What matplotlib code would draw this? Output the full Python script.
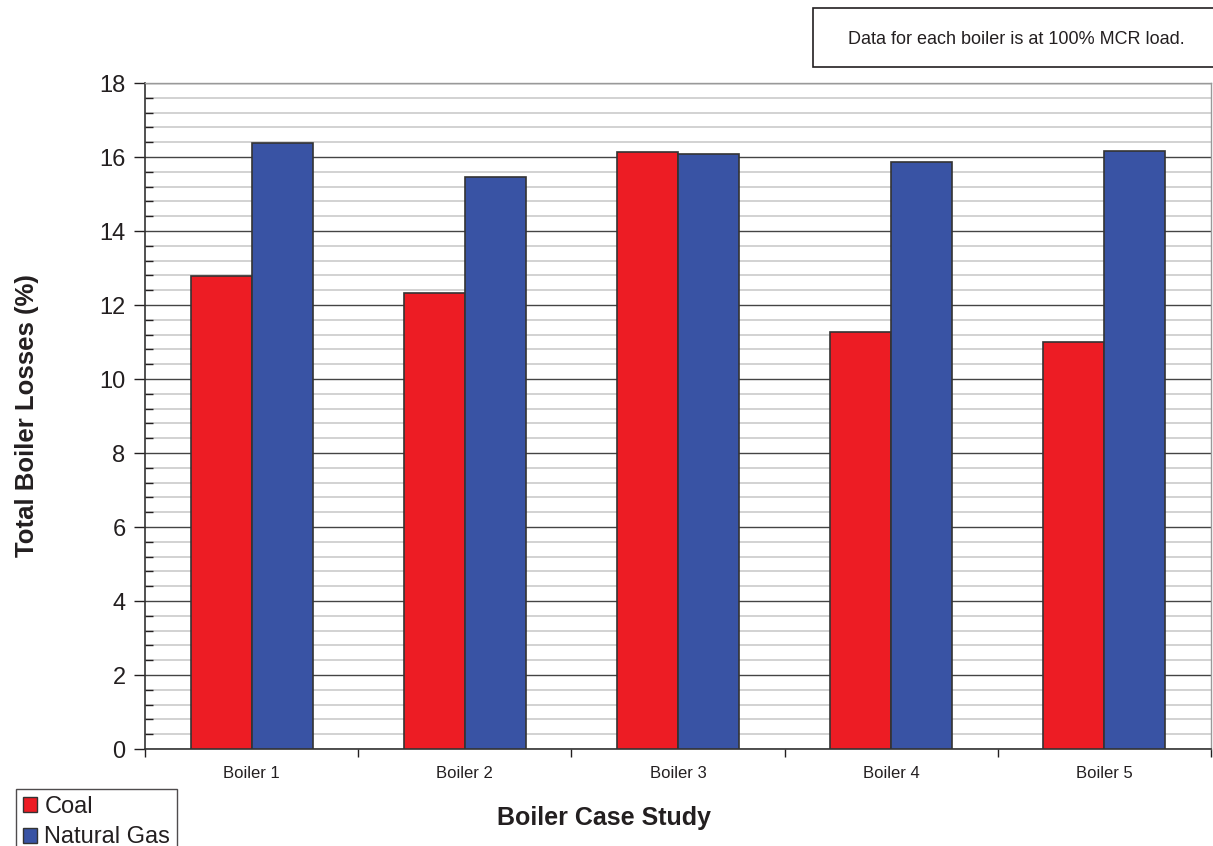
import matplotlib
matplotlib.use("Agg")
import matplotlib.pyplot as plt
import numpy as np
from matplotlib.patches import Rectangle, Patch
from matplotlib.ticker import MultipleLocator

plt.rcParams.update({
    "font.family": ["Liberation Sans", "DejaVu Sans"],
    "text.color": "#231f20",
    "xtick.color": "#231f20",
    "ytick.color": "#231f20",
})

boilers = ["Boiler 1", "Boiler 2", "Boiler 3", "Boiler 4", "Boiler 5"]
coal = [12.78, 12.32, 16.14, 11.27, 11.0]
natural_gas = [16.38, 15.46, 16.08, 15.86, 16.16]

fig = plt.figure(figsize=(12.13, 8.46), dpi=100)
ax = fig.add_axes([145 / 1213, 1 - 749 / 846, (1211 - 145) / 1213, (749 - 83) / 846])

x = np.arange(len(boilers))
w = 0.286
ax.bar(x - w / 2, coal, w, color="#ed1c24", edgecolor="#333333", linewidth=1.2, zorder=3)
ax.bar(x + w / 2, natural_gas, w, color="#3953a4", edgecolor="#333333", linewidth=1.2, zorder=3)

ax.set_xlim(-0.5, 4.5)
ax.set_ylim(0, 18)

# y: major every 2, minor every 0.4
ax.yaxis.set_major_locator(MultipleLocator(2))
ax.yaxis.set_minor_locator(MultipleLocator(0.4))
ax.tick_params(axis="y", which="major", direction="out", length=8, width=1, labelsize=17, pad=6)
ax.tick_params(axis="y", which="minor", direction="in", length=6, width=1)
ax.grid(axis="y", which="major", color="#444444", linewidth=1, zorder=1)
ax.grid(axis="y", which="minor", color="#cfcfcf", linewidth=1.3, zorder=0)

# x: ticks on category boundaries, labels at centres
ax.set_xticks(np.arange(-0.5, 4.6, 1.0))
ax.set_xticklabels([])
ax.set_xticks(x, minor=True)
ax.set_xticklabels(boilers, minor=True)
ax.tick_params(axis="x", which="major", direction="out", length=6, width=1)
ax.tick_params(axis="x", which="minor", length=0, labelsize=12, pad=12)

for s in ["left", "bottom"]:
    ax.spines[s].set_color("#333333")
    ax.spines[s].set_linewidth(1.2)
for s in ["top", "right"]:
    ax.spines[s].set_color("#999999")
    ax.spines[s].set_linewidth(1)

fig.text(27 / 1213, 1 - 416 / 846, "Total Boiler Losses (%)", fontsize=18.5, fontweight="bold",
         rotation=90, ha="center", va="center")
fig.text(604 / 1213, 1 - 818 / 846, "Boiler Case Study", fontsize=18, fontweight="bold",
         ha="center", va="center")

# note box, top right
fig.patches.append(Rectangle((813 / 1213, 1 - 67 / 846), 420 / 1213, 59 / 846,
                             transform=fig.transFigure, facecolor="white",
                             edgecolor="#231f20", linewidth=1.2))
fig.text(1016 / 1213, 1 - 40 / 846, "Data for each boiler is at 100% MCR load.",
         fontsize=13, ha="center", va="center")

handles = [Patch(facecolor="#ed1c24", edgecolor="#333333", label="Coal"),
           Patch(facecolor="#3953a4", edgecolor="#333333", label="Natural Gas")]
fig.legend(handles=handles, loc="upper left", bbox_to_anchor=(16 / 1213, 1 - 789 / 846),
           frameon=True, fancybox=False, edgecolor="#231f20", fontsize=17,
           handlelength=0.6, handleheight=0.6, handletextpad=0.3, borderpad=0.3,
           labelspacing=0.35, borderaxespad=0)

fig.savefig("out.png", dpi=100)
